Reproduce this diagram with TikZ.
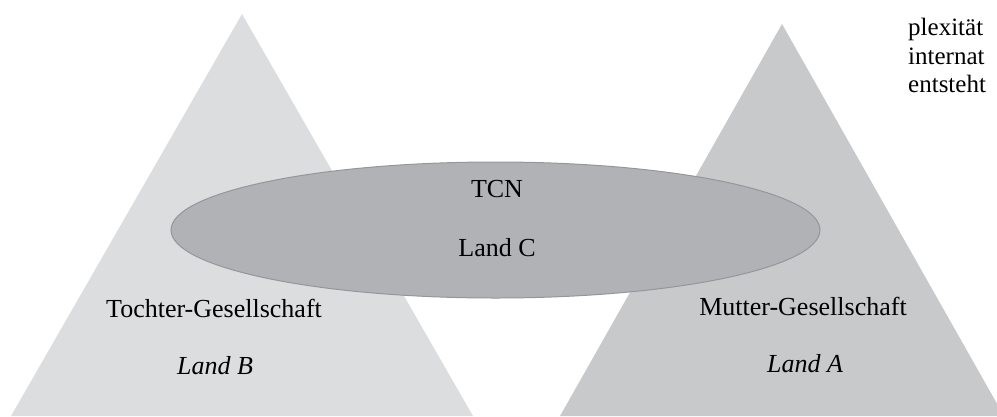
\documentclass[tikz,border=0pt]{standalone}
\usepackage{fontspec}
\setmainfont{Liberation Serif}
\definecolor{triL}{HTML}{DCDDDF}
\definecolor{triR}{HTML}{C8C9CB}
\definecolor{ellF}{HTML}{B1B2B5}
\definecolor{ellD}{HTML}{95969A}
\tikzset{
  lbl/.style={inner sep=0pt, anchor=base, font=\fontsize{26}{31}\selectfont, text=black},
  lbli/.style={lbl, font=\fontsize{26}{31}\selectfont\itshape},
  cut/.style={inner sep=0pt, anchor=base west, font=\fontsize{25}{30}\selectfont, text=black}
}
\begin{document}
\begin{tikzpicture}[x=1pt,y=-1pt]
\useasboundingbox (0,0) rectangle (997,416);
\clip (0,0) rectangle (997,416);
% triangles
\fill[triL] (11,416) -- (242,14) -- (473,416) -- cycle;
\fill[triR] (560,416) -- (782,24) -- (1004,416) -- cycle;
% ellipse
\draw[fill=ellF, draw=ellD, line width=1pt] (495.5,230) ellipse [x radius=324.5, y radius=68];
% labels
\node[lbl] (tcn) at (497,197) {TCN};
\node[lbl] (landc) at (497,256) {Land C};
\node[lbl] (tochter) at (214,317) {Tochter-Gesellschaft};
\node[lbli] (landb) at (215,374) {Land B};
\node[lbl] (mutter) at (803,315) {Mutter-Gesellschaft};
\node[lbli] (landa) at (805,372) {Land A};
% cut-off text at top right
\node[cut] (t1) at (908,35) {plexität};
\node[cut] (t2) at (908,64) {internat};
\node[cut] (t3) at (908,92) {entsteht};
\end{tikzpicture}
\end{document}
